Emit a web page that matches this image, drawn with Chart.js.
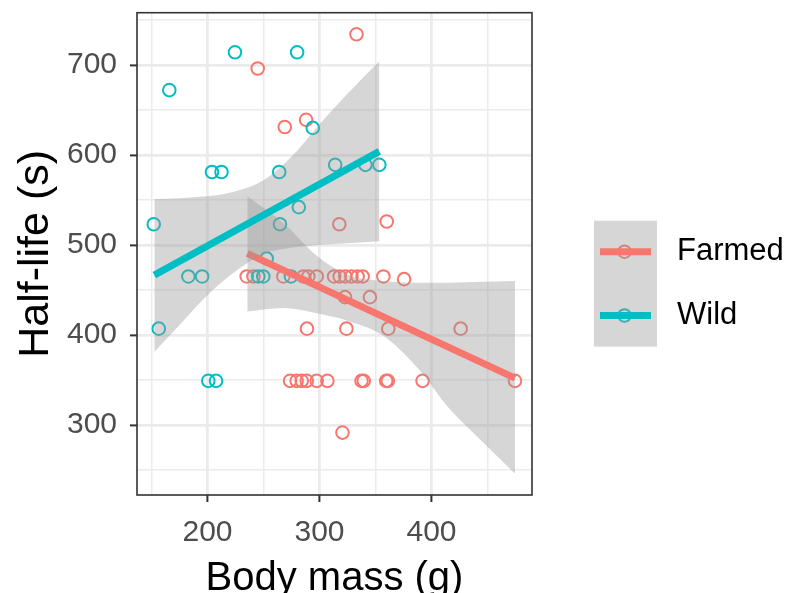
<!DOCTYPE html>
<html>
<head>
<meta charset="utf-8">
<script src="https://cdn.jsdelivr.net/npm/chart.js@4.4.1/dist/chart.umd.min.js"></script>
<style>
  html, body { margin: 0; padding: 0; background: #fff; }
  #wrap { width: 788px; height: 593px; position: relative; }
</style>
</head>
<body>
<div id="wrap"><canvas id="chart"></canvas></div>
<script>
const groups = ['Farmed', 'Wild'];
const groupColours = ['#F8766D', '#00BFC4'];

const farmedMass = [333, 244.8, 288, 269, 360, 317.7,
  235, 241, 267.7, 285.5, 290, 297.5, 313, 318, 323, 328.5, 334, 338.5, 357, 375.5,
  322.8, 345, 288.8, 324, 361.4, 426,
  273.7, 279.6, 284.1, 288.6, 297.5, 307, 337.5, 339.5, 359.5, 361, 392, 474.5,
  320.5];
const farmedHalfLife = [734, 696, 639, 631, 526, 523,
  465, 465, 465, 465, 465, 465, 465, 465, 465, 465, 465, 465, 465, 462,
  442, 442, 407, 407, 407, 407,
  349, 349, 349, 349, 349, 349, 349, 349, 349, 349, 349, 349,
  291.5];

const wildMass = [224.5, 280, 165.9, 294, 204, 212.5, 264, 314, 341, 353.4,
  281.5, 152, 264.7, 182.9, 195.2, 252.8, 156.5, 200.7, 207.6, 245.4, 249.8, 274.5];
const wildHalfLife = [714, 714, 672, 630, 581, 581, 581, 589, 589, 589,
  542, 523, 523, 465, 465, 485, 407, 349, 349, 465, 465, 465];

// fitted lines (lm) and their confidence bands
const farmedFitMass = [235.5, 474.5];
const farmedFitHalfLife = [490.7, 352];
const wildFitMass = [152.5, 353.4];
const wildFitHalfLife = [466.5, 604];

const farmedBandMass = [235.5, 268, 297.5, 327, 357, 387, 416, 445, 474.5];
const farmedBandLower = [426, 430, 424, 415, 399, 364, 318, 282, 246];
const farmedBandUpper = [554, 524, 488, 466, 460, 458, 458, 459, 460];

const wildBandMass = [152.5, 175, 199, 220, 250, 275, 300, 325, 353.4];
const wildBandLower = [381, 411, 443, 466, 490, 497, 500, 502, 504];
const wildBandUpper = [551, 552, 554, 558, 572, 598, 634, 668, 704];

const xTickLabels = [200, 300, 400];
const yTickLabels = [300, 400, 500, 600, 700];

const FONT = "'Liberation Sans', Arial, Helvetica, sans-serif";
const ribbonFill = 'rgba(153,153,153,0.4)';

const toPoints = (xs, ys) => xs.map((x, i) => ({ x: x, y: ys[i] }));

const fitLine = (xs, ys, colour) => ({
  data: toPoints(xs, ys),
  borderColor: colour,
  borderWidth: 7,
  borderCapStyle: 'butt',
  pointRadius: 0,
  fill: false
});
const bandEdge = (xs, ys, fillTarget) => ({
  data: toPoints(xs, ys),
  borderWidth: 0,
  borderColor: 'rgba(0,0,0,0)',
  backgroundColor: ribbonFill,
  pointRadius: 0,
  cubicInterpolationMode: 'monotone',
  fill: fillTarget
});
const pointSet = (xs, ys, colour) => ({
  data: toPoints(xs, ys),
  showLine: false,
  pointRadius: 6.3,
  pointBorderWidth: 2,
  pointBorderColor: colour,
  pointBackgroundColor: 'rgba(0,0,0,0)'
});

// panel border + legend, drawn like ggplot does it
const panelBits = {
  id: 'panelBits',
  afterDatasetsDraw(chart) {
    const a = chart.chartArea, c = chart.ctx;
    c.save();
    c.strokeStyle = '#333333';
    c.lineWidth = 1.6;
    c.strokeRect(a.left, a.top, a.right - a.left, a.bottom - a.top);
    c.restore();
  },
  afterDraw(chart) {
    const c = chart.ctx;
    const rows = [251.7, 315.5];
    c.save();
    groups.forEach((g, i) => {
      c.beginPath();
      c.arc(624.5, rows[i], 6.3, 0, Math.PI * 2);
      c.strokeStyle = groupColours[i];
      c.lineWidth = 2;
      c.stroke();
    });
    c.fillStyle = ribbonFill;
    c.fillRect(594, 220.7, 63, 126);
    groups.forEach((g, i) => {
      c.beginPath();
      c.moveTo(600, rows[i]);
      c.lineTo(651, rows[i]);
      c.strokeStyle = groupColours[i];
      c.lineWidth = 7;
      c.stroke();
      c.fillStyle = '#000';
      c.font = '31px ' + FONT;
      c.textBaseline = 'middle';
      c.fillText(g, 677, rows[i]);
    });
    c.restore();
  }
};

const isMajor = (v, list) => list.includes(v);

new Chart(document.getElementById('chart'), {
  type: 'line',
  data: {
    datasets: [
      fitLine(wildFitMass, wildFitHalfLife, groupColours[1]),
      bandEdge(wildBandMass, wildBandUpper, 2),
      bandEdge(wildBandMass, wildBandLower, false),
      fitLine(farmedFitMass, farmedFitHalfLife, groupColours[0]),
      bandEdge(farmedBandMass, farmedBandUpper, 5),
      bandEdge(farmedBandMass, farmedBandLower, false),
      pointSet(wildMass, wildHalfLife, groupColours[1]),
      pointSet(farmedMass, farmedHalfLife, groupColours[0])
    ]
  },
  options: {
    responsive: true,
    maintainAspectRatio: false,
    animation: false,
    events: [],
    layout: { padding: { top: 12.7, right: 256, bottom: 0, left: 0 } },
    plugins: { legend: { display: false }, tooltip: { enabled: false } },
    scales: {
      x: {
        type: 'linear',
        min: 137.05,
        max: 489.7,
        border: { display: false },
        grid: {
          color: '#EBEBEB',
          lineWidth: ctx => isMajor(ctx.tick.value, xTickLabels) ? 2.8 : 1.5,
          tickLength: 7,
          tickWidth: 2,
          tickColor: ctx => isMajor(ctx.tick.value, xTickLabels) ? '#333333' : 'rgba(0,0,0,0)'
        },
        ticks: {
          stepSize: 50,
          includeBounds: false,
          autoSkip: false,
          maxRotation: 0,
          padding: 13,
          color: '#4D4D4D',
          font: { family: FONT, size: 30 },
          callback: v => isMajor(v, xTickLabels) ? String(v) : ''
        },
        title: {
          display: true,
          text: 'Body mass (g)',
          color: '#000',
          font: { family: FONT, size: 40, lineHeight: 0.68 },
          padding: 0
        },
        afterFit: s => { s.height = 98; s.paddingLeft = 0; s.paddingRight = 0; }
      },
      y: {
        type: 'linear',
        min: 222.2,
        max: 758,
        border: { display: false },
        grid: {
          color: '#EBEBEB',
          lineWidth: ctx => isMajor(ctx.tick.value, yTickLabels) ? 2.8 : 1.5,
          tickLength: 7,
          tickWidth: 2,
          tickColor: ctx => isMajor(ctx.tick.value, yTickLabels) ? '#333333' : 'rgba(0,0,0,0)'
        },
        ticks: {
          stepSize: 50,
          includeBounds: false,
          autoSkip: false,
          padding: 13,
          color: '#4D4D4D',
          font: { family: FONT, size: 30 },
          callback: v => isMajor(v, yTickLabels) ? String(v) : ''
        },
        title: {
          display: true,
          text: 'Half-life (s)',
          color: '#000',
          font: { family: FONT, size: 43, lineHeight: 1.2 },
          padding: { top: 10, bottom: 0 }
        },
        afterFit: s => { s.width = 137; s.paddingTop = 0; s.paddingBottom = 0; }
      }
    }
  },
  plugins: [panelBits]
});
</script>
</body>
</html>
